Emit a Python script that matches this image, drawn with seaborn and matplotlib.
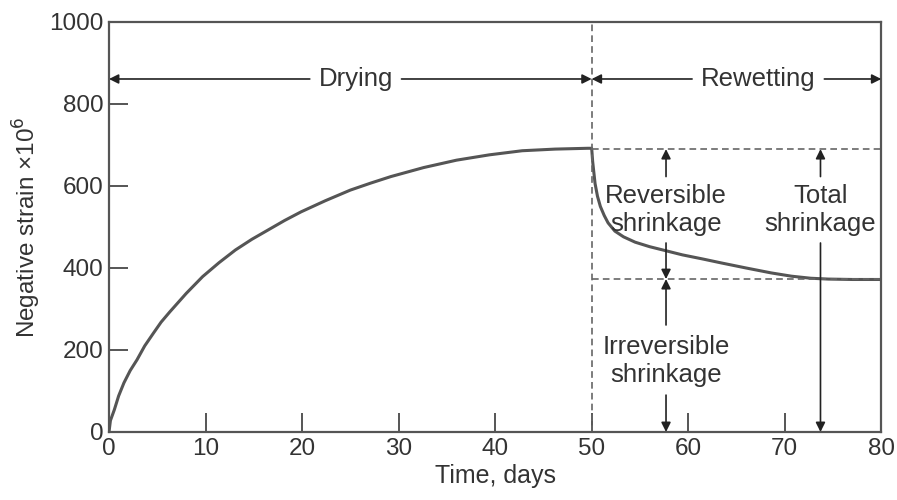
import seaborn as sns
import pandas as pd
from matplotlib import pyplot as plt

# values
days = [0, 0.15, 0.55, 1.0, 1.55, 2.2, 2.9, 3.7, 4.6, 5.4, 6.3, 8.0, 9.7, 11.4, 13.1,
        14.8, 16.5, 18.2, 19.9, 22.4, 25.0, 27.1, 29.2, 32.6, 36.0, 39.4, 42.8,
        46.2, 49.6, 50.0,
        50.1, 50.35, 50.6, 50.9, 51.3, 51.7, 52.4, 53.3, 54.5, 56.0, 57.7, 59.4,
        61.5, 63.5, 66.0, 68.6, 70.7, 72.7, 74.5, 77.0, 80.0]
strain = [0, 28, 54, 88, 120, 150, 176, 210, 241, 268, 293, 338, 379, 413, 444,
          470, 493, 516, 537, 564, 590, 607, 623, 645, 663, 676, 686,
          690, 692, 692,
          660, 606, 575, 550, 528, 510, 490, 476, 463, 452, 442, 432,
          422, 412, 400, 388, 380, 375, 373, 372, 372]

total_level = 690
irrev_level = 373

sns.set_style("ticks")
plt.rcParams['font.family'] = ['Liberation Sans', 'DejaVu Sans']

grey = '#555555'
txt = '#333333'

df = pd.DataFrame({"Time, days": days, "strain": strain})

fig = plt.figure(figsize=(8.97, 5.0), dpi=100)
ax = fig.add_axes([0.1215, 0.136, 0.861, 0.82])

sns.lineplot(data=df, x="Time, days", y="strain", ax=ax, color=grey, linewidth=2.2)

dash = dict(color='#666666', linestyle=(0, (4, 2.5)), linewidth=1.2)
ax.axvline(50, **dash)
ax.plot([50, 80], [total_level, total_level], **dash)
ax.plot([50, 80], [irrev_level, irrev_level], **dash)

arr = dict(arrowstyle='-|>', color='#222222', lw=1.2, mutation_scale=14, shrinkA=0, shrinkB=0)
fs = 18.5

# Drying / Rewetting spans
ax.annotate('', xy=(0, 861), xytext=(20.8, 861), arrowprops=arr)
ax.annotate('', xy=(50, 861), xytext=(30.3, 861), arrowprops=arr)
ax.text(25.6, 861, 'Drying', ha='center', va='center', fontsize=fs, color=txt)
ax.annotate('', xy=(50, 861), xytext=(60.4, 861), arrowprops=arr)
ax.annotate('', xy=(80, 861), xytext=(74.1, 861), arrowprops=arr)
ax.text(67.2, 861, 'Rewetting', ha='center', va='center', fontsize=fs, color=txt)

# reversible
xr = 57.7
ax.annotate('', xy=(xr, total_level), xytext=(xr, 623), arrowprops=arr)
ax.text(xr, 542, 'Reversible\nshrinkage', ha='center', va='center', fontsize=fs, color=txt)
ax.annotate('', xy=(xr, irrev_level), xytext=(xr, 461), arrowprops=arr)

# irreversible
ax.annotate('', xy=(xr, irrev_level), xytext=(xr, 261), arrowprops=arr)
ax.text(xr, 173, 'Irreversible\nshrinkage', ha='center', va='center', fontsize=fs, color=txt)
ax.annotate('', xy=(xr, 0), xytext=(xr, 90), arrowprops=arr)

# total
xt = 73.7
ax.annotate('', xy=(xt, total_level), xytext=(xt, 623), arrowprops=arr)
ax.text(xt, 542, 'Total\nshrinkage', ha='center', va='center', fontsize=fs, color=txt)
ax.annotate('', xy=(xt, 0), xytext=(xt, 461), arrowprops=arr)

ax.set_xlim(0, 80)
ax.set_ylim(0, 1000)
ax.set_xticks(range(0, 81, 10))
ax.set_yticks(range(0, 1001, 200))
ax.tick_params(direction='in', length=14, width=1.4, color=grey, labelsize=17.5,
               labelcolor=txt, pad=4)
for s in ax.spines.values():
    s.set_visible(True)
    s.set_color(grey)
    s.set_linewidth(1.6)

ax.set_xlabel("Time, days", fontsize=18, color=txt, labelpad=3)
ax.set_ylabel("Negative strain ×10$^6$", fontsize=17.5, color=txt, labelpad=4)

fig.savefig("out.png", dpi=100)
